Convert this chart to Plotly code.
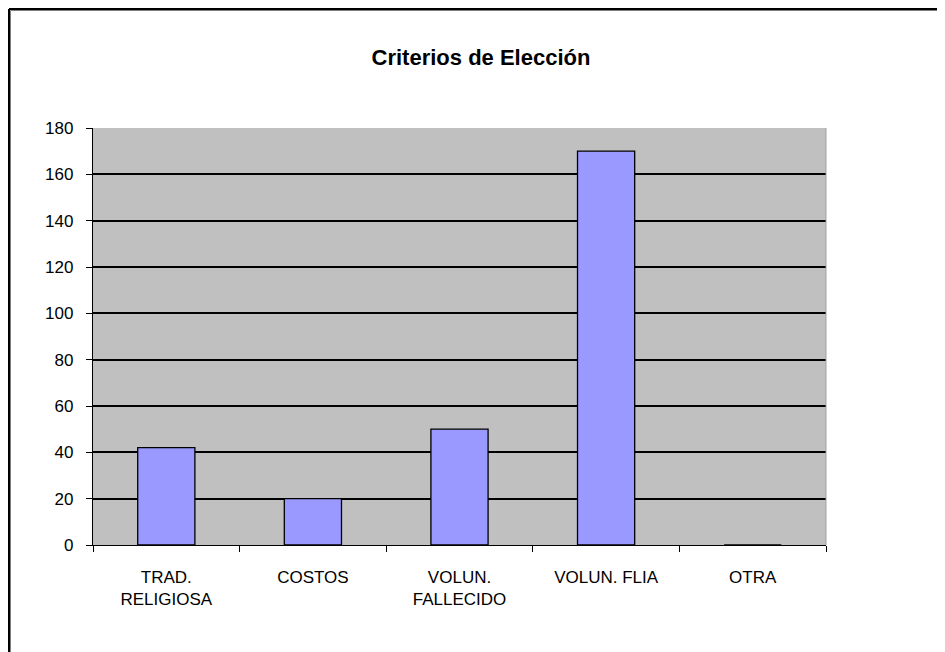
import plotly.graph_objects as go

categories = ["TRAD.<br>RELIGIOSA", "COSTOS", "VOLUN.<br>FALLECIDO", "VOLUN. FLIA", "OTRA"]
values = [42, 20, 50, 170, 0]
y_ticks = [0, 20, 40, 60, 80, 100, 120, 140, 160, 180]

OFF = 8  # page body margin
W, H = 945 - OFF, 652 - OFF
L, R, T, B = 93 - OFF, 826 - OFF, 128 - OFF, 545 - OFF

fig = go.Figure(go.Bar(
    x=categories, y=values, width=0.39,
    marker=dict(color="#9999FF", line=dict(color="#000000", width=1.3)),
))

def px_x(p):
    return (p - L) / (R - L)

def px_y(p):
    return (B - p) / (B - T)

fig.update_layout(
    width=W, height=H,
    margin=dict(l=L, r=W - R, t=T, b=H - B),
    paper_bgcolor="white",
    plot_bgcolor="#C0C0C0",
    font=dict(family="Liberation Sans, Arial, sans-serif", size=17, color="#000000"),
    title=dict(text="<b>Criterios de Elección</b>", x=(481 - OFF) / W, xanchor="center",
               xref="container", yref="container", y=1 - (57 - OFF) / H, yanchor="middle",
               font=dict(size=22, color="#000000")),
    showlegend=False,
    bargap=0.6,
    xaxis=dict(showgrid=False, showline=True, linecolor="#000000", linewidth=1.3,
               ticks="outside", tickson="boundaries", ticklen=6, tickcolor="#000000",
               tickwidth=1.3, ticklabelstandoff=16, zeroline=False),
    yaxis=dict(range=[0, 180], tickvals=y_ticks, showgrid=True, gridcolor="#000000",
               gridwidth=1.5, showline=True, linecolor="#000000", linewidth=1.3,
               ticks="outside", ticklen=6, tickcolor="#000000", tickwidth=1.3,
               ticklabelstandoff=9, zeroline=False),
    shapes=[
        dict(type="line", xref="paper", yref="paper", x0=px_x(1), x1=px_x(1),
             y0=px_y(1), y1=px_y(700), line=dict(color="#000000", width=2)),
        dict(type="line", xref="paper", yref="paper", x0=px_x(1), x1=px_x(1000),
             y0=px_y(1), y1=px_y(1), line=dict(color="#000000", width=2)),
        dict(type="line", xref="paper", yref="paper", x0=px_x(2.5), x1=px_x(2.5),
             y0=px_y(2.5), y1=px_y(700), line=dict(color="#808080", width=1)),
        dict(type="line", xref="paper", yref="paper", x0=px_x(2.5), x1=px_x(1000),
             y0=px_y(2.5), y1=px_y(2.5), line=dict(color="#808080", width=1)),
        dict(type="line", xref="paper", yref="paper", x0=1, x1=1, y0=0, y1=1,
             line=dict(color="#A0A0A0", width=1)),
    ],
)

fig.write_html("out.html")
